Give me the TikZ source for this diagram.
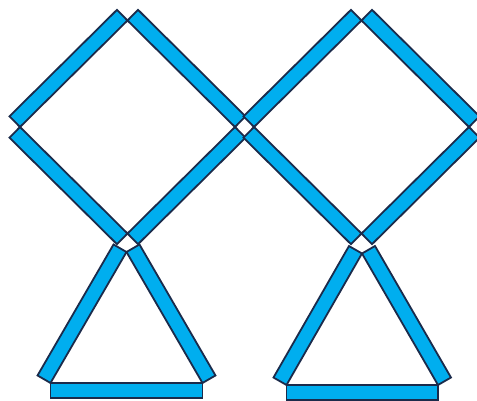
\documentclass[tikz,border=0pt]{standalone}
\usetikzlibrary{calc}
\definecolor{stickblue}{HTML}{00AEEF}
\definecolor{stickline}{HTML}{1B2B4B}
\tikzset{stick/.style={fill=stickblue, draw=stickline, line width=1.8pt, line join=miter}}
\newcommand\matchstick[2]{\draw[stick] (#1) -- (#2) -- ($(#2)!15pt!-90:(#1)$) -- ($(#1)!15pt!90:(#2)$) -- cycle;}
\begin{document}
\begin{tikzpicture}[x=1pt,y=-1pt]
\useasboundingbox (0,0) rectangle (477,401);
% left diamond
\coordinate (aL) at (20,127);
\coordinate (aT) at (127.5,20.5);
\coordinate (aR) at (235,127);
\coordinate (aB) at (127.5,233.5);
% right diamond
\coordinate (bL) at (254,127);
\coordinate (bT) at (361.5,20.5);
\coordinate (bR) at (469,127);
\coordinate (bB) at (361.5,233.5);
% left triangle
\coordinate (cA) at (126.5,252);
\coordinate (cL) at (50.5,383);
\coordinate (cR) at (202.5,383);
% right triangle
\coordinate (dA) at (362,253.5);
\coordinate (dL) at (286.5,385);
\coordinate (dR) at (438,385);
\matchstick{aL}{aT}
\matchstick{aT}{aR}
\matchstick{aR}{aB}
\matchstick{aB}{aL}
\matchstick{bL}{bT}
\matchstick{bT}{bR}
\matchstick{bR}{bB}
\matchstick{bB}{bL}
\matchstick{cL}{cA}
\matchstick{cA}{cR}
\matchstick{cR}{cL}
\matchstick{dL}{dA}
\matchstick{dA}{dR}
\matchstick{dR}{dL}
\end{tikzpicture}
\end{document}
